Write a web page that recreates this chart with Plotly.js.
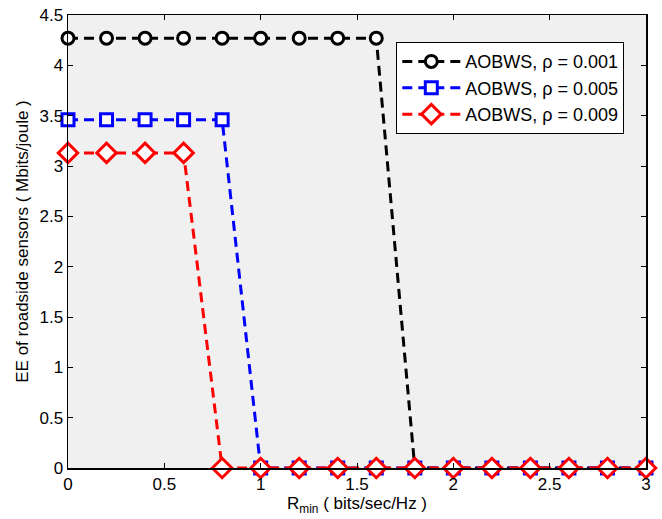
<!DOCTYPE html>
<html><head><meta charset="utf-8">
<script src="https://cdn.plot.ly/plotly-3.0.1.min.js"></script>
<style>body{margin:0;background:#fff}#c{width:662px;height:519px}</style>
</head><body><div id="c"></div>
<script>
const xVals = [0, 0.2, 0.4, 0.6, 0.8, 1.0, 1.2, 1.4, 1.6, 1.8, 2.0, 2.2, 2.4, 2.6, 2.8, 3.0];
const ee001 = [4.27, 4.27, 4.27, 4.27, 4.27, 4.27, 4.27, 4.27, 4.27, 0, 0, 0, 0, 0, 0, 0];
const ee005 = [3.46, 3.46, 3.46, 3.46, 3.46, 0, 0, 0, 0, 0, 0, 0, 0, 0, 0, 0];
const ee009 = [3.13, 3.13, 3.13, 3.13, 0, 0, 0, 0, 0, 0, 0, 0, 0, 0, 0, 0];
const names = ['AOBWS, ρ = 0.001', 'AOBWS, ρ = 0.005', 'AOBWS, ρ = 0.009'];
const xTicks = [0, 0.5, 1, 1.5, 2, 2.5, 3];
const xTickText = ['0', '0.5', '1', '1.5', '2', '2.5', '3'];
const yTicks = [0, 0.5, 1, 1.5, 2, 2.5, 3, 3.5, 4, 4.5];
const yTickText = ['0', '0.5', '1', '1.5', '2', '2.5', '3', '3.5', '4', '4.5'];

const mk = (y, name, color, sym) => ({
  x: xVals, y: y, name: name, type: 'scatter', mode: 'lines+markers', cliponaxis: false,
  line: {color: color, width: 3, dash: '10px,6px'},
  marker: {symbol: sym, size: sym === 'diamond' ? 15 : 12, color: '#ffffff', line: {color: color, width: 3}}
});
const data = [
  mk(ee001, names[0], '#000000', 'circle'),
  mk(ee005, names[1], '#0000ff', 'square'),
  mk(ee009, names[2], '#ff0000', 'diamond')
];
const font = {family: 'Liberation Sans, Arial, sans-serif', size: 17, color: '#000'};
const layout = {
  width: 662, height: 519,
  margin: {l: 68, r: 16, t: 15, b: 51},
  paper_bgcolor: '#ffffff', plot_bgcolor: '#f0f0f0',
  font: font, showlegend: true,
  xaxis: {range: [0, 3], tickvals: xTicks, ticktext: xTickText, ticks: 'inside', ticklen: 5, tickcolor: '#000',
    showline: true, linecolor: '#000', linewidth: 1.5, mirror: 'ticks', showgrid: false, zeroline: false,
    title: {text: 'R<sub>min</sub> ( bits/sec/Hz )', font: font, standoff: 4}, tickfont: {size: 17}},
  yaxis: {range: [0, 4.5], tickvals: yTicks, ticktext: yTickText, ticks: 'inside', ticklen: 5, tickcolor: '#000',
    showline: true, linecolor: '#000', linewidth: 1.5, mirror: 'ticks', showgrid: false, zeroline: false,
    title: {text: 'EE of roadside sensors ( Mbits/joule )', font: font, standoff: 6}, tickfont: {size: 17}},
  legend: {x: 0.568, y: 0.94, xanchor: 'left', yanchor: 'top', bgcolor: '#ffffff', bordercolor: '#000', borderwidth: 1,
    font: {family: 'Liberation Sans, Arial, sans-serif', size: 18}, tracegroupgap: 0, itemwidth: 58}
};
Plotly.newPlot('c', data, layout, {displayModeBar: false, staticPlot: true});
</script></body></html>
